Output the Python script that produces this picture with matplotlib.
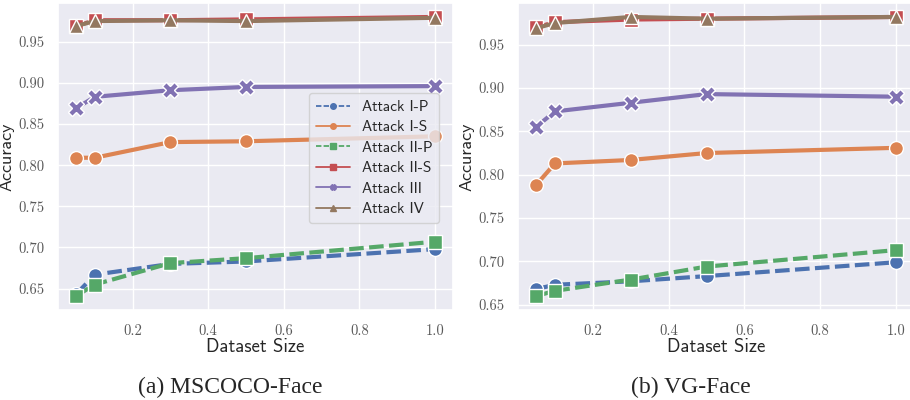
import matplotlib
matplotlib.use("Agg")
import matplotlib.pyplot as plt
from matplotlib.lines import Line2D
import seaborn as sns

# ── Data ─────────────────────────────────────────────────────
sizes = [0.05, 0.1, 0.3, 0.5, 1.0]
attacks = ["Attack I-P", "Attack I-S", "Attack II-P", "Attack II-S",
           "Attack III", "Attack IV"]

coco_ip  = [0.643, 0.667, 0.680, 0.683, 0.698]
coco_is  = [0.809, 0.809, 0.828, 0.829, 0.835]
coco_iip = [0.641, 0.655, 0.681, 0.687, 0.707]
coco_iis = [0.969, 0.976, 0.976, 0.977, 0.980]
coco_iii = [0.869, 0.883, 0.891, 0.895, 0.896]
coco_iv  = [0.969, 0.975, 0.976, 0.975, 0.979]

vg_ip  = [0.668, 0.673, 0.677, 0.683, 0.699]
vg_is  = [0.788, 0.813, 0.817, 0.825, 0.831]
vg_iip = [0.660, 0.666, 0.679, 0.694, 0.713]
vg_iis = [0.970, 0.976, 0.979, 0.980, 0.982]
vg_iii = [0.855, 0.873, 0.883, 0.893, 0.890]
vg_iv  = [0.969, 0.975, 0.982, 0.980, 0.982]

captions = ["(a) MSCOCO-Face", "(b) VG-Face"]

# ── Style ────────────────────────────────────────────────────
sns.set_theme(style="darkgrid")
pal = sns.color_palette("deep")
colors  = [pal[0], pal[1], pal[2], pal[3], pal[4], pal[5]]
markers = ["o", "o", "s", "s", "X", "^"]
dashed  = [True, False, True, False, False, False]

TICK_FONT  = "cmr10"
LABEL_FONT = "cmss10"

fig = plt.figure(figsize=(9.1, 4.0), dpi=100)
W, H = 910, 400


def add_ax(x0, y0, x1, y1):
    return fig.add_axes([x0 / W, 1 - y1 / H, (x1 - x0) / W, (y1 - y0) / H])


ax_a = add_ax(58, 3, 453, 310)
ax_b = add_ax(518, 3, 914, 310)

panels = [
    (ax_a, [coco_ip, coco_is, coco_iip, coco_iis, coco_iii, coco_iv]),
    (ax_b, [vg_ip, vg_is, vg_iip, vg_iis, vg_iii, vg_iv]),
]

for ax, series in panels:
    for vals, c, m, d in zip(series, colors, markers, dashed):
        ax.plot(sizes, vals, color=c, lw=3.0,
                linestyle=(0, (3.5, 1.3)) if d else "-",
                marker=m, markersize=10 if m != "X" else 11,
                markeredgecolor="white", markeredgewidth=1.0)
    ax.set_yticks([0.65, 0.70, 0.75, 0.80, 0.85, 0.90, 0.95])
    ax.set_xticks([0.2, 0.4, 0.6, 0.8, 1.0])
    ax.set_yticklabels([f"{v:.2f}" for v in ax.get_yticks()])
    ax.set_xticklabels([f"{v:.1f}" for v in ax.get_xticks()])
    for lab in ax.get_xticklabels() + ax.get_yticklabels():
        lab.set_fontfamily(TICK_FONT)
        lab.set_fontsize(10.5)
        lab.set_color(".35")
    ax.tick_params(pad=4)
    ax.set_xlabel("Dataset Size", fontfamily=LABEL_FONT, fontsize=13.5,
                  color=".15", labelpad=0)
    ax.set_ylabel("Accuracy", fontfamily=LABEL_FONT, fontsize=13,
                  color=".15")
    ax.yaxis.set_label_coords(-0.11, 0.5)

# legend with small markers, only in panel (a)
handles = [Line2D([], [], color=c, lw=1.3,
                  linestyle=(0, (3, 1.2)) if d else "-",
                  marker=m, markersize=4)
           for c, m, d in zip(colors, markers, dashed)]
leg = ax_a.legend(handles, attacks, loc="center right",
                  prop={"family": LABEL_FONT, "size": 11},
                  frameon=True, borderpad=0.45, labelspacing=0.42,
                  handlelength=2.2, bbox_to_anchor=(0.985, 0.495))

# sub-figure captions
fig.text(230 / W, 1 - 387 / H, captions[0], ha="center", va="center",
         fontfamily="Liberation Serif", fontsize=17)
fig.text(691 / W, 1 - 387 / H, captions[1], ha="center", va="center",
         fontfamily="Liberation Serif", fontsize=17)

fig.savefig("out.png", dpi=100, facecolor="white")
